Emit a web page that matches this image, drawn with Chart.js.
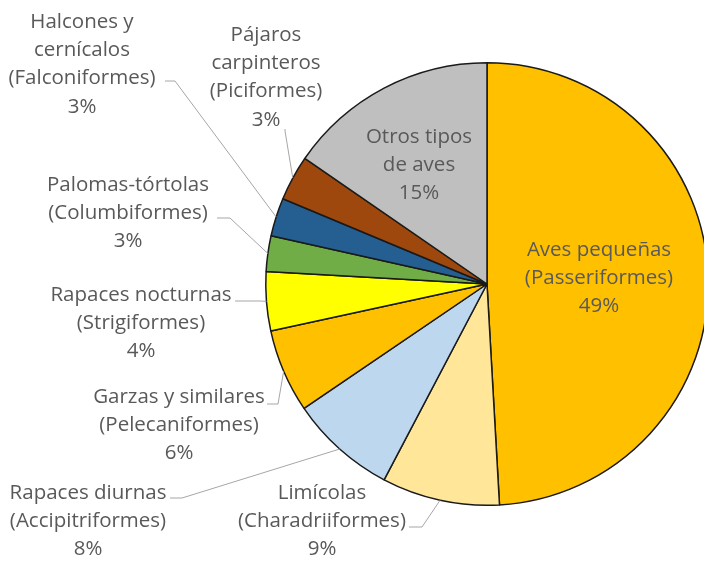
<!DOCTYPE html>
<html>
<head>
<meta charset="utf-8">
<script src="https://cdn.jsdelivr.net/npm/chart.js@4"></script>
<style>
	html, body { margin: 0; padding: 0; background: #fff; overflow: hidden; }
	#wrap { width: 704px; height: 561px; overflow: hidden; }
</style>
</head>
<body>
<div id="wrap"><canvas id="aves" width="720" height="561"></canvas></div>
<script>
// categories (each one split into the lines shown on the chart)
const categories = [
	['Aves pequeñas', '(Passeriformes)'],
	['Limícolas', '(Charadriiformes)'],
	['Rapaces diurnas', '(Accipitriformes)'],
	['Garzas y similares', '(Pelecaniformes)'],
	['Rapaces nocturnas', '(Strigiformes)'],
	['Palomas-tórtolas', '(Columbiformes)'],
	['Halcones y', 'cernícalos', '(Falconiformes)'],
	['Pájaros', 'carpinteros', '(Piciformes)'],
	['Otros tipos', 'de aves']
];
// share of each group, in percent
const values = [49.1, 8.6, 7.8, 6.1, 4.3, 2.6, 2.8, 3.3, 15.4];

const sliceColors = ['#FFC000', '#FFE699', '#BDD7EE', '#FFC000', '#FFFF00', '#70AD47', '#255E91', '#9E480E', '#BFBFBF'];

// where each label sits: x = centre of text, y = middle of first line,
// leader = start and elbow of the grey line (it ends on the slice)
const labelLayout = [
	{ x: 599, y: 250 },
	{ x: 322, y: 493, leader: [[409, 527], [422, 527]] },
	{ x: 88, y: 493, leader: [[170, 498], [182, 498]] },
	{ x: 179, y: 397, leader: [[267, 404], [278, 404]] },
	{ x: 141, y: 295, leader: [[235, 301], [260, 301]] },
	{ x: 128, y: 185, leader: [[217, 218], [230, 218]] },
	{ x: 82, y: 22, leader: [[165, 81], [175, 81]] },
	{ x: 266, y: 35, leader: [[285, 129], [285, 131]] },
	{ x: 419, y: 137 }
];
const lineGap = 28.3;

const total = values.reduce((a, b) => a + b, 0);

const pieLabels = {
	id: 'pieLabels',
	afterDatasetsDraw(chart) {
		const ctx = chart.ctx;
		const meta = chart.getDatasetMeta(0);
		ctx.save();
		// leader lines first
		ctx.strokeStyle = '#A6A6A6';
		ctx.lineWidth = 1;
		meta.data.forEach((arc, i) => {
			const lay = labelLayout[i];
			if (!lay.leader) return;
			const mid = (arc.startAngle + arc.endAngle) / 2;
			const ex = arc.x + arc.outerRadius * Math.cos(mid);
			const ey = arc.y + arc.outerRadius * Math.sin(mid);
			ctx.beginPath();
			ctx.moveTo(lay.leader[0][0], lay.leader[0][1]);
			ctx.lineTo(lay.leader[1][0], lay.leader[1][1]);
			ctx.lineTo(ex, ey);
			ctx.stroke();
		});
		// text
		ctx.fillStyle = '#595959';
		ctx.font = '20.5px "Open Sans", sans-serif';
		ctx.textAlign = 'center';
		ctx.textBaseline = 'middle';
		categories.forEach((lines, i) => {
			const lay = labelLayout[i];
			const all = lines.concat([Math.round(values[i] / total * 100) + '%']);
			all.forEach((t, k) => ctx.fillText(t, lay.x, lay.y + k * lineGap));
		});
		ctx.restore();
	}
};

new Chart(document.getElementById('aves'), {
	type: 'pie',
	data: {
		labels: categories.map(c => c.join(' ')),
		datasets: [
			{
				data: values,
				backgroundColor: sliceColors,
				borderColor: '#1a1a1a',
				borderWidth: 1.5
			}
		]
	},
	options: {
		responsive: false,
		animation: false,
		layout: {
			padding: { left: 265, right: 11, top: 62, bottom: 55 }
		},
		plugins: {
			legend: { display: false },
			tooltip: { enabled: false }
		}
	},
	plugins: [pieLabels]
});
</script>
</body>
</html>
